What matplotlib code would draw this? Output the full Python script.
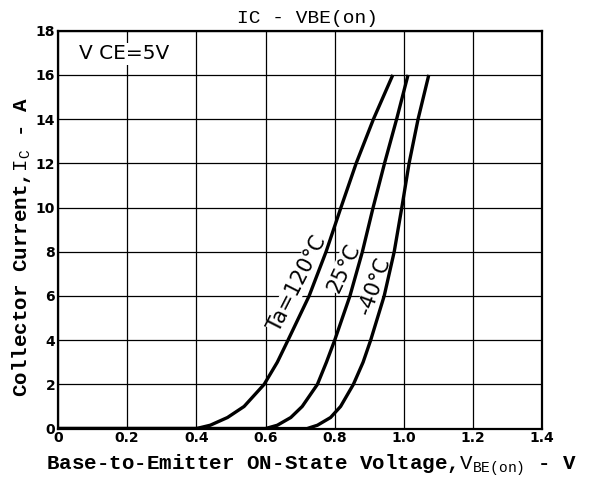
import matplotlib.pyplot as plt

plt.rcParams['mathtext.fontset'] = 'custom'
plt.rcParams['mathtext.tt'] = 'Liberation Mono'
plt.rcParams['mathtext.rm'] = 'Liberation Mono'

# curve data (V_BE in V, I_C in A)
i_pts = [0.0, 0.0, 0.15, 0.5, 1.0, 2.0, 3.0, 4.0, 6.0, 8.0, 10.0, 12.0, 14.0, 16.0]
v_120 = [0.0, 0.40, 0.44, 0.49, 0.538, 0.596, 0.634, 0.665, 0.726, 0.775, 0.818, 0.862, 0.912, 0.968]
v_25 = [0.0, 0.60, 0.634, 0.673, 0.706, 0.750, 0.776, 0.800, 0.844, 0.880, 0.911, 0.944, 0.979, 1.012]
v_m40 = [0.0, 0.72, 0.75, 0.788, 0.817, 0.854, 0.882, 0.904, 0.943, 0.972, 0.994, 1.015, 1.041, 1.072]

x_ticks = [0, 0.2, 0.4, 0.6, 0.8, 1.0, 1.2, 1.4]
x_labels = ["0", "0.2", "0.4", "0.6", "0.8", "1.0", "1.2", "1.4"]
y_ticks = [0, 2, 4, 6, 8, 10, 12, 14, 16, 18]

fig = plt.figure(figsize=(6.13, 4.87), dpi=100)
ax = fig.add_axes([0.0946, 0.12, 0.79, 0.817])

for v in [v_120, v_25, v_m40]:
    ax.plot(v, i_pts, color="black", lw=2.4, solid_capstyle="butt",
            solid_joinstyle="round", zorder=3)

ax.set_xlim(0, 1.4)
ax.set_ylim(0, 18)
ax.set_xticks(x_ticks)
ax.set_xticklabels(x_labels)
ax.set_yticks(y_ticks)
ax.grid(True, color="black", lw=0.9)
ax.tick_params(length=0, labelsize=10, pad=2)
for lab in ax.get_xticklabels() + ax.get_yticklabels():
    lab.set_fontweight("bold")
for s in ax.spines.values():
    s.set_linewidth(1.6)
    s.set_zorder(4)

ax.text(0.06, 16.95, "V CE=5V", fontsize=14.5, va="center", ha="left",
        bbox=dict(facecolor="white", edgecolor="none", pad=1), zorder=5)

lab_box = dict(facecolor="white", edgecolor="none", pad=0.3)
ax.text(0.692, 6.57, "Ta=120\u00b0C", fontsize=15, rotation=63, ha="center", va="center",
        bbox=lab_box, zorder=2.5)
ax.text(0.826, 7.27, "25\u00b0C", fontsize=15, rotation=65, ha="center", va="center",
        bbox=lab_box, zorder=2.5)
ax.text(0.915, 6.42, "-40\u00b0C", fontsize=15, rotation=70, ha="center", va="center",
        bbox=lab_box, zorder=2.5)

fig.text(0.502, 0.961, "IC - VBE(on)", ha="center", va="center", fontsize=14,
         family="Liberation Mono")

ax.set_xlabel("Base-to-Emitter ON-State Voltage,$\\mathtt{V_{BE(on)}}$ - V",
              family="Liberation Mono", fontsize=15, fontweight="bold")
ax.set_ylabel("Collector Current,$\\mathtt{I_C}$ - A",
              family="Liberation Mono", fontsize=15, fontweight="bold")
ax.xaxis.set_label_coords(0.523, -0.06)
ax.yaxis.set_label_coords(-0.052, 0.456)

fig.savefig("out.png", dpi=100)
